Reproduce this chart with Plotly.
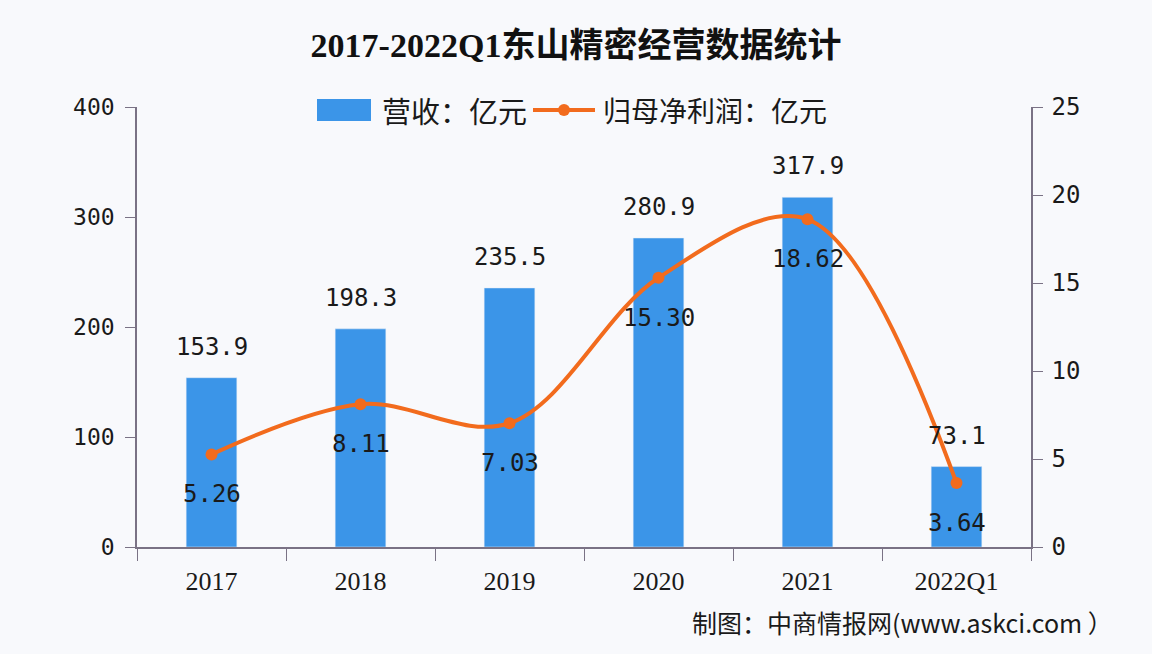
import plotly.graph_objects as go

categories = ["2017", "2018", "2019", "2020", "2021", "2022Q1"]
revenue = [153.9, 198.3, 235.5, 280.9, 317.9, 73.1]
net_profit = [5.26, 8.11, 7.03, 15.30, 18.62, 3.64]
revenue_labels = ["153.9", "198.3", "235.5", "280.9", "317.9", "73.1"]
profit_labels = ["5.26", "8.11", "7.03", "15.30", "18.62", "3.64"]
y1_ticks = [0, 100, 200, 300, 400]
y2_ticks = [0, 5, 10, 15, 20, 25]

num_font = "DejaVu Sans Mono"
cjk_font = "Noto Sans CJK SC"
bar_color = "#3b95e8"
line_color = "#f26b1d"
axis_color = "#7a7285"

# plot area in pixels: x 137..1031, y 107..547
L, R, T, B = 137, 1031, 107, 547
def px(x):
    return (x - L) / (R - L)
def py(y):
    return (B - y) / (B - T)

fig = go.Figure()
fig.add_trace(go.Bar(
    x=categories, y=revenue, name="营收：亿元",
    marker=dict(color=bar_color), width=0.34, showlegend=False,
))
fig.add_trace(go.Scatter(
    x=categories, y=net_profit, name="归母净利润：亿元", yaxis="y2",
    mode="lines+markers",
    line=dict(color=line_color, width=4, shape="spline", smoothing=1.0),
    marker=dict(color=line_color, size=12),
    cliponaxis=False, showlegend=False,
))

annotations = []
for i, (v, t) in enumerate(zip(revenue, revenue_labels)):
    annotations.append(dict(x=i, y=v, xref="x", yref="y", text=t, showarrow=False,
                            yanchor="middle", yshift=31,
                            font=dict(family=num_font, size=24, color="#1a1a1a")))
for i, (v, t) in enumerate(zip(net_profit, profit_labels)):
    annotations.append(dict(x=i, y=v, xref="x", yref="y2", text=t, showarrow=False,
                            yanchor="middle", yshift=-40,
                            font=dict(family=num_font, size=24, color="#1a1a1a")))

# legend (custom, to match wide rectangle symbol)
annotations.append(dict(text="营收：亿元", xref="paper", yref="paper", x=px(380), y=py(110),
                        xanchor="left", yanchor="middle", showarrow=False,
                        font=dict(family=cjk_font, size=29, color="#1a1a1a")))
annotations.append(dict(text="归母净利润：亿元", xref="paper", yref="paper", x=px(601), y=py(110),
                        xanchor="left", yanchor="middle", showarrow=False,
                        font=dict(family=cjk_font, size=28, color="#1a1a1a")))
annotations.append(dict(text="制图：中商情报网(www.askci.com ）", xref="paper", yref="paper",
                        x=px(1115), y=py(622), xanchor="right", yanchor="middle", showarrow=False,
                        font=dict(family=cjk_font, size=25, color="#1a1a1a")))

shapes = [
    dict(type="rect", xref="paper", yref="paper", x0=px(317), x1=px(371), y0=py(121), y1=py(99),
         fillcolor=bar_color, line=dict(width=0)),
    dict(type="line", xref="paper", yref="paper", x0=px(533), x1=px(595), y0=py(110), y1=py(110),
         line=dict(color=line_color, width=4)),
    dict(type="circle", xref="paper", yref="paper", xsizemode="pixel", ysizemode="pixel",
         xanchor=px(564), yanchor=py(110), x0=-6, x1=6, y0=-6, y1=6,
         fillcolor=line_color, line=dict(width=0)),
]

fig.update_layout(
    width=1152, height=654,
    paper_bgcolor="#f8f9fc", plot_bgcolor="#f8f9fc",
    margin=dict(l=L, r=1152 - R, t=T, b=654 - B),
    title=dict(text="<b>2017-2022Q1东山精密经营数据统计</b>", x=0.5, xanchor="center",
               y=1 - 45 / 654, yanchor="middle",
               font=dict(family="Liberation Serif, Noto Sans CJK SC", size=34, color="#111")),
    showlegend=False,
    xaxis=dict(
        type="category", range=[-0.5, len(categories) - 0.5],
        showline=True, linecolor=axis_color, linewidth=1.5,
        ticks="outside", tickson="boundaries", ticklen=12, tickcolor=axis_color,
        tickfont=dict(family="Liberation Serif", size=26, color="#1a1a1a"),
        ticklabelstandoff=10,
        tickangle=0,
        showgrid=False,
    ),
    yaxis=dict(
        range=[0, 400], tickvals=y1_ticks,
        showline=True, linecolor=axis_color, linewidth=1.5,
        ticks="outside", ticklen=10, tickcolor=axis_color,
        tickfont=dict(family=num_font, size=23, color="#1a1a1a"),
        ticklabelstandoff=6,
        showgrid=False, zeroline=False,
    ),
    yaxis2=dict(
        range=[0, 25], tickvals=y2_ticks,
        overlaying="y", side="right",
        showline=True, linecolor=axis_color, linewidth=1.5,
        ticks="outside", ticklen=10, tickcolor=axis_color,
        tickfont=dict(family=num_font, size=24, color="#1a1a1a"),
        ticklabelstandoff=4,
        showgrid=False, zeroline=False,
    ),
    annotations=annotations,
    shapes=shapes,
)

fig.write_html("out.html", config={"displayModeBar": False},
               post_script="document.body.style.margin='0';document.body.style.padding='0';")
